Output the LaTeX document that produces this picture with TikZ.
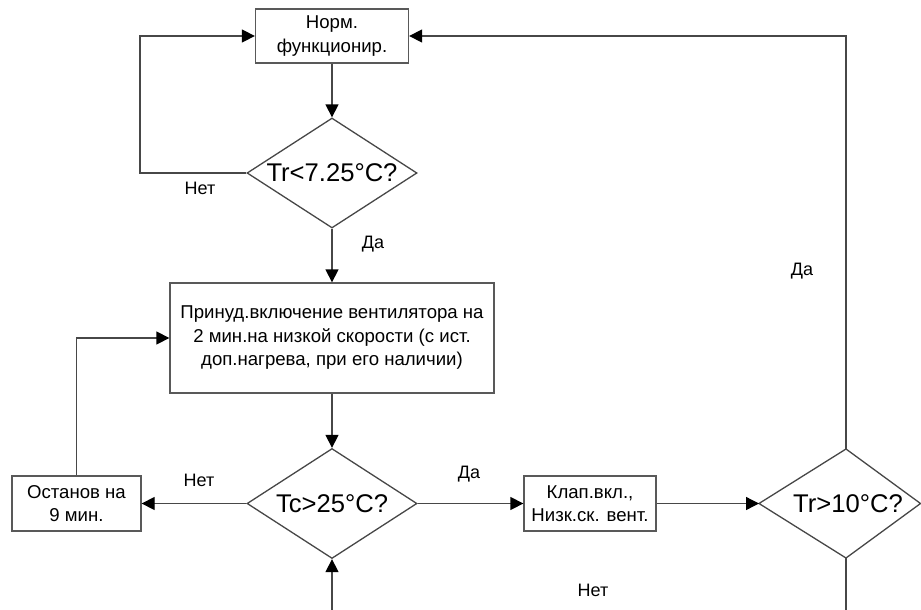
\documentclass[tikz,border=0pt]{standalone}
\usepackage{fontspec}
\setmainfont{Liberation Sans}
\usetikzlibrary{shapes.geometric,arrows.meta}
\begin{document}
\begin{tikzpicture}[x=1pt,y=-1pt,
  line/.style={draw=black!72, line width=1.3pt},
  arr/.style={line, -{Triangle[length=13pt,width=13pt,color=black]}},
  boxnode/.style={draw=black!65, line width=1.3pt, rectangle, inner sep=0pt, align=center, font=\fontsize{18.6}{23.5}\selectfont},
  decision/.style={draw=black!72, line width=1.3pt, diamond, aspect=1.545, inner sep=0pt, minimum width=170pt, minimum height=110pt, font=\fontsize{25.6}{28}\selectfont},
  dtext/.style={inner sep=0pt, font=\fontsize{25.6}{28}\selectfont},
  lbl/.style={font=\fontsize{18}{20}\selectfont, inner sep=0pt}]
\useasboundingbox (0,0) rectangle (921,610);

\node[boxnode, minimum width=153pt, minimum height=54pt] (norm) at (332,36) {Норм.\\функционир.};
\node[decision] (d1) at (332,173) {Tr<7.25°C?};
\node[boxnode, minimum width=324pt, minimum height=110pt] (force) at (332,338) {Принуд.включение вентилятора на\\2 мин.на низкой скорости (с ист.\\доп.нагрева, при его наличии)};
\node[decision] (d2) at (332,503.5) {Tc>25°C?};
\node[boxnode, minimum width=129pt, minimum height=55pt] (stop) at (76.5,503.5) {Останов на\\9 мин.};
\node[boxnode, minimum width=132pt, minimum height=55pt] (valve) at (590,503.5) {Клап.вкл.,\\Низк.ск. вент.};

\coordinate (d3n) at (846,449);
\coordinate (d3e) at (920.5,503.5);
\coordinate (d3s) at (846,558);
\coordinate (d3w) at (759,503.5);
\draw[line, line join=miter] (d3n) -- (d3e) -- (d3s) -- (d3w) -- cycle;
\node[dtext] (d3) at (848,503.5) {Tr>10°C?};

\coordinate (l1) at (140,173);
\coordinate (b1) at (846,610);
\coordinate (b2) at (332,610);

\draw[arr] (norm.south) -- (d1.north);
\draw[arr] (d1.west) -- (l1) |- (norm.west);
\draw[arr] (d1.south) -- (force.north);
\draw[arr] (force.south) -- (d2.north);
\draw[arr] (d2.west) -- (stop.east);
\draw[arr] (stop.north) |- (force.west);
\draw[arr] (d2.east) -- (valve.west);
\draw[arr] (valve.east) -- (d3w);
\draw[arr] (d3n) |- (norm.east);
\draw[line] (d3s) -- (b1);
\draw[arr] (b2) -- (d2.south);

\node[lbl] (n1) at (200,188) {Нет};
\node[lbl] (y1) at (373,244) {Да};
\node[lbl] (n2) at (199,480) {Нет};
\node[lbl] (y2) at (469,474) {Да};
\node[lbl] (n3) at (593,590) {Нет};
\node[lbl] (y3) at (802,271) {Да};
\end{tikzpicture}
\end{document}
